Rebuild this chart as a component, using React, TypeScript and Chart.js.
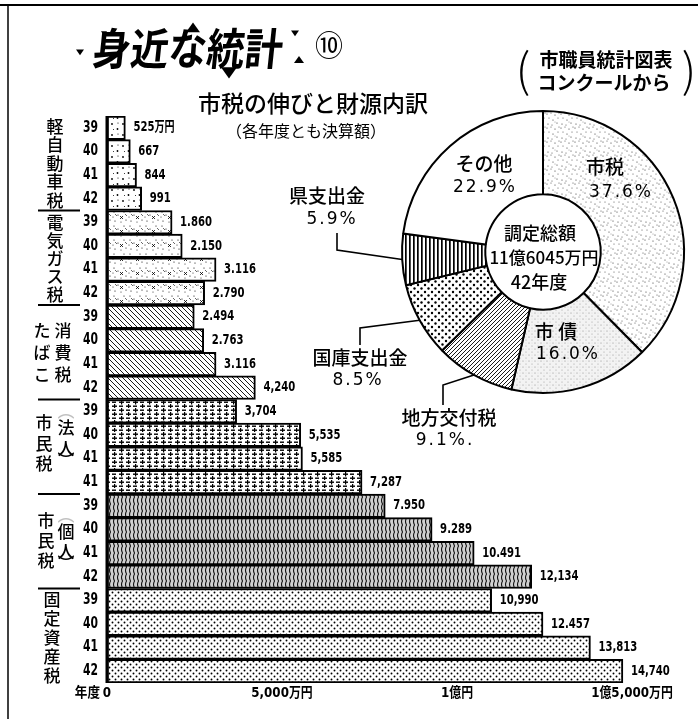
import React, { useEffect, useRef } from 'react';
import { Chart, registerables } from 'chart.js';

Chart.register(...registerables);

// ---------- data ----------
const groupNames = ['軽自動車税', '電気ガス税', 'たばこ消費税', '市民税（法人）', '市民税（個人）', '固定資産税'];
const yearLabels = [
  '39', '40', '41', '42',
  '39', '40', '41', '42',
  '39', '40', '41', '42',
  '39', '40', '41', '41',
  '39', '40', '41', '42',
  '39', '40', '41', '42',
];
const keijidoshaValues = [525, 667, 844, 991];
const denkiGasValues = [1860, 2150, 3116, 2790];
const tabakoValues = [2494, 2763, 3116, 4240];
const hojinValues = [3704, 5535, 5585, 7287];
const kojinValues = [7950, 9289, 10491, 12134];
const koteiValues = [10990, 12457, 13813, 14740];
const valueLabels = [
  '525万円', '667', '844', '991',
  '1.860', '2.150', '3.116', '2.790',
  '2.494', '2.763', '3.116', '4,240',
  '3,704', '5,535', '5,585', '7,287',
  '7.950', '9.289', '10.491', '12,134',
  '10,990', '12.457', '13,813', '14,740',
];
const xTickValues = [0, 5000, 10000, 15000];
const xTickLabels = ['0', '5,000万円', '1億円', '1億5,000万円'];

const pieLabels = ['市税', '市債', '地方交付税', '国庫支出金', '県支出金', 'その他'];
const pieValues = [37.6, 16.0, 9.1, 8.5, 5.9, 22.9];
const piePercentLabels = ['37.6%', '16.0%', '9.1%.', '8.5%', '5.9%', '22.9%'];

const JP = "'Noto Sans CJK JP', 'Noto Sans CJK SC', sans-serif";
const NUM = "'DejaVu Sans', " + JP;
const PCT = "'DejaVu Sans', " + JP;

// ---------- patterns ----------
function makePattern(w: number, h: number, draw: (c: CanvasRenderingContext2D) => void, bg = '#fff'): CanvasPattern {
  const cv = document.createElement('canvas');
  cv.width = w;
  cv.height = h;
  const c = cv.getContext('2d')!;
  c.fillStyle = bg;
  c.fillRect(0, 0, w, h);
  draw(c);
  return c.createPattern(cv, 'repeat')!;
}
function dot(c: CanvasRenderingContext2D, x: number, y: number, r: number, col = '#000') {
  c.fillStyle = col;
  c.beginPath();
  c.arc(x, y, r, 0, Math.PI * 2);
  c.fill();
}
function line(c: CanvasRenderingContext2D, x1: number, y1: number, x2: number, y2: number, w: number, col = '#000') {
  c.strokeStyle = col;
  c.lineWidth = w;
  c.beginPath();
  c.moveTo(x1, y1);
  c.lineTo(x2, y2);
  c.stroke();
}

function buildBarPatterns() {
  const sparse = makePattern(11, 11, (c) => {
    dot(c, 2, 3, 0.9); dot(c, 7.5, 8, 0.9); dot(c, 8, 2, 0.6); dot(c, 3.5, 8.5, 0.5);
  });
  const mixed = makePattern(16, 14, (c) => {
    dot(c, 2, 2, 0.6); dot(c, 6, 5, 0.6); dot(c, 12, 2, 0.6); dot(c, 14, 10, 0.6);
    dot(c, 3, 11, 0.6); dot(c, 9, 12, 0.5); dot(c, 1, 7, 0.5);
    line(c, 8, 6, 11, 9, 0.8); line(c, 11, 6, 8, 9, 0.8);
    line(c, 3, 4, 5, 6, 0.6); line(c, 13, 4, 15, 6, 0.6);
  });
  const hatchBack = makePattern(5, 5, (c) => {
    line(c, -1, -1, 6, 6, 0.9); line(c, -1, 4, 1, 6, 0.9); line(c, 4, -1, 6, 1, 0.9);
  });
  const dashes = makePattern(14, 8, (c) => {
    c.fillStyle = '#000';
    c.fillRect(0, 1.5, 4, 1.4);
    c.fillRect(7, 1.5, 5, 1.4); c.fillRect(9, 0, 1.2, 4.5);
    c.fillRect(7, 5.5, 4, 1.4);
    c.fillRect(0, 5.5, 5, 1.4); c.fillRect(2, 4, 1.2, 4);
  });
  const wavy = makePattern(4, 7, (c) => {
    c.strokeStyle = '#111';
    c.lineWidth = 1.1;
    c.beginPath();
    c.moveTo(2.6, 0);
    c.quadraticCurveTo(0.4, 3.5, 2.6, 7);
    c.stroke();
  }, '#d0d0d0');
  const dotGrid = makePattern(6, 6, (c) => {
    dot(c, 1.5, 1.5, 0.95); dot(c, 4.5, 4.5, 0.95);
  });
  return [sparse, mixed, hatchBack, dashes, wavy, dotGrid];
}

function buildPiePatterns() {
  const stipple = makePattern(14, 14, (c) => {
    const col = '#333';
    dot(c, 1, 2, 0.6, col); dot(c, 5, 1, 0.5, col); dot(c, 9, 3, 0.6, col); dot(c, 12, 6, 0.5, col);
    dot(c, 3, 6, 0.5, col); dot(c, 7, 8, 0.6, col); dot(c, 11, 11, 0.6, col); dot(c, 2, 12, 0.6, col);
    dot(c, 6, 13, 0.5, col); dot(c, 13, 1, 0.5, col); dot(c, 9, 10, 0.4, col);
  });
  const fine = makePattern(6, 6, (c) => {
    dot(c, 1, 1, 0.55, '#888'); dot(c, 4, 4, 0.55, '#999'); dot(c, 4, 1, 0.4, '#bbb');
  }, '#f3f3f3');
  const hatchFwd = makePattern(4, 4, (c) => {
    line(c, -1, 5, 5, -1, 0.9); line(c, -1, 1, 1, -1, 0.9); line(c, 3, 5, 5, 3, 0.9);
  });
  const dotGrid = makePattern(7, 7, (c) => {
    dot(c, 1.5, 1.5, 1.2); dot(c, 5, 5, 1.2);
  });
  const vLines = makePattern(4, 4, (c) => {
    c.fillStyle = '#000';
    c.fillRect(1, 0, 1.7, 4);
  });
  return [stipple, fine, hatchFwd, dotGrid, vLines, '#ffffff'];
}

function narrowText(ctx: CanvasRenderingContext2D, text: string, x: number, y: number, align: CanvasTextAlign, sx: number) {
  ctx.save();
  ctx.translate(x, y);
  ctx.scale(sx, 1);
  ctx.textAlign = align;
  ctx.fillText(text, 0, 0);
  ctx.restore();
}

// ---------- plugins ----------
type Col = { x: number; chars: string[]; dy: number[]; alpha?: number[] };
const groupLabelCols: Col[][] = [
  [{ x: 55, chars: ['軽', '自', '動', '車', '税'], dy: [-37, -18.5, 0, 18.5, 37] }],
  [{ x: 55, chars: ['電', '気', 'ガ', 'ス', '税'], dy: [-35, -17, 1, 19, 37] }],
  [
    { x: 42, chars: ['た', 'ば', 'こ'], dy: [-22, 0, 22] },
    { x: 63, chars: ['消', '費', '税'], dy: [-22, 0, 22] },
  ],
  [
    { x: 44, chars: ['市', '民', '税'], dy: [-24, -3, 17] },
    { x: 66, chars: ['︵', '法', '人', '︶'], dy: [-36, -19, 2, 14], alpha: [0.25, 1, 1, 1] },
  ],
  [
    { x: 46, chars: ['市', '民', '税'], dy: [-21, -1, 19] },
    { x: 66, chars: ['︵', '個', '人', '︶'], dy: [-27, -10, 10, 22], alpha: [0.25, 1, 1, 1] },
  ],
  [{ x: 52, chars: ['固', '定', '資', '産', '税'], dy: [-36, -17, 2, 21, 40] }],
];

const barDecor = {
  id: 'barDecor',
  afterDraw(chart: any) {
    const { ctx, chartArea, scales } = chart;
    const xs = scales.x;
    const meta = chart.getDatasetMeta(0);
    const bars = meta.data as any[];
    ctx.save();
    ctx.fillStyle = '#000';
    ctx.strokeStyle = '#000';

    // frame
    ctx.lineWidth = 2;
    ctx.beginPath(); ctx.moveTo(0, 5); ctx.lineTo(698, 5); ctx.stroke();
    ctx.lineWidth = 1.5;
    ctx.beginPath(); ctx.moveTo(8, 5); ctx.lineTo(8, 719); ctx.stroke();

    // base axis line
    const x0 = xs.getPixelForValue(0);
    ctx.lineWidth = 3;
    ctx.beginPath(); ctx.moveTo(x0, chartArea.top); ctx.lineTo(x0, chartArea.bottom); ctx.stroke();

    ctx.textBaseline = 'middle';
    // year labels
    ctx.font = `bold 15px ${NUM}`;
    bars.forEach((b, i) => narrowText(ctx, yearLabels[i], x0 - 9, b.y, 'right', 0.72));

    // value labels
    ctx.font = `bold 14px ${NUM}`;
    bars.forEach((b, i) => narrowText(ctx, valueLabels[i], b.x + 8, b.y, 'left', 0.72));

    // x ticks
    const ty = chartArea.bottom + 10;
    ctx.font = `bold 14px ${NUM}`;
    xTickValues.forEach((v, i) => narrowText(ctx, xTickLabels[i], xs.getPixelForValue(v), ty, 'center', 0.85));
    narrowText(ctx, '年度', x0 - 7, ty, 'right', 0.9);

    // group separators & labels
    ctx.lineWidth = 2;
    for (let g = 1; g < groupNames.length; g++) {
      const y = (bars[4 * g - 1].y + bars[4 * g].y) / 2;
      ctx.beginPath(); ctx.moveTo(38, y); ctx.lineTo(80, y); ctx.stroke();
    }
    ctx.textAlign = 'center';
    ctx.font = `500 17px ${JP}`;
    groupLabelCols.forEach((cols, g) => {
      const cy = (bars[4 * g].y + bars[4 * g + 3].y) / 2;
      cols.forEach((col) => {
        col.chars.forEach((ch, k) => {
          ctx.globalAlpha = col.alpha ? col.alpha[k] : 1;
          ctx.fillText(ch, col.x, cy + col.dy[k]);
        });
      });
    });
    ctx.globalAlpha = 1;

    // decorative heading
    ctx.save();
    ctx.translate(188, 48);
    ctx.transform(1, 0, -0.12, 1.15, 0, 0);
    ctx.font = `bold 38px ${JP}`;
    ctx.textAlign = 'center';
    ctx.fillText('身近な統計', 0, 0);
    ctx.restore();
    const tri = (x: number, y: number, s: number, down: boolean) => {
      ctx.beginPath();
      if (down) { ctx.moveTo(x - s, y - s * 0.6); ctx.lineTo(x + s, y - s * 0.6); ctx.lineTo(x, y + s * 0.8); }
      else { ctx.moveTo(x - s, y + s * 0.6); ctx.lineTo(x + s, y + s * 0.6); ctx.lineTo(x, y - s * 0.8); }
      ctx.closePath();
      ctx.fill();
    };
    tri(104, 33, 3, true); tri(80, 52, 4, true); tri(193, 28, 7, false); tri(229, 72, 8, true);
    tri(295, 33, 4, true); tri(299, 60, 5, false);
    ctx.font = `28px ${JP}`;
    ctx.textAlign = 'center';
    ctx.fillText('⑩', 329, 45);

    // source note
    ctx.font = `bold 19px ${JP}`;
    ctx.fillText('市職員統計図表', 606, 60);
    ctx.fillText('コンクールから', 604, 83);
    ctx.font = `300 46px ${JP}`;
    ctx.fillText('(', 523, 70);
    ctx.fillText(')', 689, 70);

    // chart title
    ctx.font = `500 23px ${JP}`;
    ctx.fillText('市税の伸びと財源内訳', 313, 103);
    ctx.font = `16px ${JP}`;
    ctx.fillText('（各年度とも決算額）', 306, 131);
    ctx.restore();
  },
};

const pieDecor = {
  id: 'pieDecor',
  afterDraw(chart: any) {
    const ctx = chart.ctx;
    const arcs = chart.getDatasetMeta(0).data as any[];
    const cx = arcs[0].x;
    const cy = arcs[0].y;
    ctx.save();
    ctx.fillStyle = '#000';
    ctx.strokeStyle = '#000';
    ctx.textAlign = 'center';
    ctx.textBaseline = 'middle';
    const jp = (t: string, dx: number, dy: number, size = 19) => {
      ctx.font = `500 ${size}px ${JP}`;
      ctx.letterSpacing = '0px';
      ctx.fillText(t, cx + dx, cy + dy);
    };
    const pct = (t: string, dx: number, dy: number) => {
      ctx.font = `17px ${PCT}`;
      ctx.letterSpacing = '2px';
      ctx.fillText(t, cx + dx, cy + dy);
      ctx.letterSpacing = '0px';
    };
    // inside labels
    jp(pieLabels[5], -59, -88); pct(piePercentLabels[5], -58, -64);
    jp(pieLabels[0], 62, -85); pct(piePercentLabels[0], 78, -59);
    jp('市 債', 13, 80); pct(piePercentLabels[1], 25, 103);
    // center
    jp('調定総額', -3, -19, 18);
    jp('11億6045万円', 1, 6, 17);
    jp('42年度', -4, 30, 18);
    // outside labels with leader lines
    const leader = (i: number, pts: number[][]) => {
      const a = arcs[i];
      const mid = (a.startAngle + a.endAngle) / 2;
      const ex = a.x + a.outerRadius * Math.cos(mid);
      const ey = a.y + a.outerRadius * Math.sin(mid);
      ctx.lineWidth = 1.6;
      ctx.beginPath();
      ctx.moveTo(cx + pts[0][0], cy + pts[0][1]);
      for (let k = 1; k < pts.length; k++) ctx.lineTo(cx + pts[k][0], cy + pts[k][1]);
      ctx.lineTo(ex, ey);
      ctx.stroke();
    };
    jp('県支出金', -216, -56); pct(piePercentLabels[4], -211, -32);
    leader(4, [[-206, -19], [-206, -2]]);
    jp('国庫支出金', -183, 106); pct(piePercentLabels[3], -185, 129);
    leader(3, [[-183, 93], [-183, 76]]);
    jp('地方交付税', -94, 166); pct(piePercentLabels[2], -98, 189);
    leader(2, [[-100, 153], [-100, 133]]);
    ctx.restore();
  },
};

export default function App() {
  const barRef = useRef<HTMLCanvasElement>(null);
  const pieRef = useRef<HTMLCanvasElement>(null);

  useEffect(() => {
    const barPatterns = buildBarPatterns();
    const piePatterns = buildPiePatterns();
    const groupsValues = [keijidoshaValues, denkiGasValues, tabakoValues, hojinValues, kojinValues, koteiValues];
    const allValues: number[] = [];
    const bg: any[] = [];
    groupsValues.forEach((vals, g) => vals.forEach((v) => { allValues.push(v); bg.push(barPatterns[g]); }));

    const barChart = new Chart(barRef.current!, {
      type: 'bar',
      data: {
        labels: yearLabels.map((y, i) => `${groupNames[Math.floor(i / 4)]} ${y}`),
        datasets: [{
          data: allValues,
          backgroundColor: bg,
          borderColor: '#000',
          borderWidth: 2,
          borderSkipped: false,
          barPercentage: 1,
          categoryPercentage: 1,
        }],
      },
      options: {
        indexAxis: 'y',
        responsive: false,
        animation: false,
        devicePixelRatio: 1,
        events: [],
        layout: { padding: { left: 107, right: 31, top: 116, bottom: 36 } },
        scales: {
          x: { type: 'linear', min: 0, max: 16000, display: false },
          y: { type: 'category', display: false },
        },
        plugins: { legend: { display: false }, tooltip: { enabled: false } },
      },
      plugins: [barDecor],
    } as any);

    const pieChart = new Chart(pieRef.current!, {
      type: 'doughnut',
      data: {
        labels: pieLabels,
        datasets: [{
          data: pieValues,
          backgroundColor: piePatterns,
          borderColor: '#000',
          borderWidth: 2,
        }],
      },
      options: {
        responsive: false,
        animation: false,
        devicePixelRatio: 1,
        events: [],
        radius: 141,
        cutout: 61,
        layout: { padding: { left: 393, right: 5, top: 102, bottom: 317 } },
        plugins: { legend: { display: false }, tooltip: { enabled: false } },
      },
      plugins: [pieDecor],
    } as any);

    return () => {
      barChart.destroy();
      pieChart.destroy();
    };
  }, []);

  return (
    <div style={{ position: 'absolute', left: 0, top: 0, width: 698, height: 719, background: '#fff' }}>
      <canvas ref={barRef} width={698} height={719} style={{ position: 'absolute', left: 0, top: 0 }} />
      <canvas ref={pieRef} width={698} height={719} style={{ position: 'absolute', left: 0, top: 0 }} />
    </div>
  );
}
